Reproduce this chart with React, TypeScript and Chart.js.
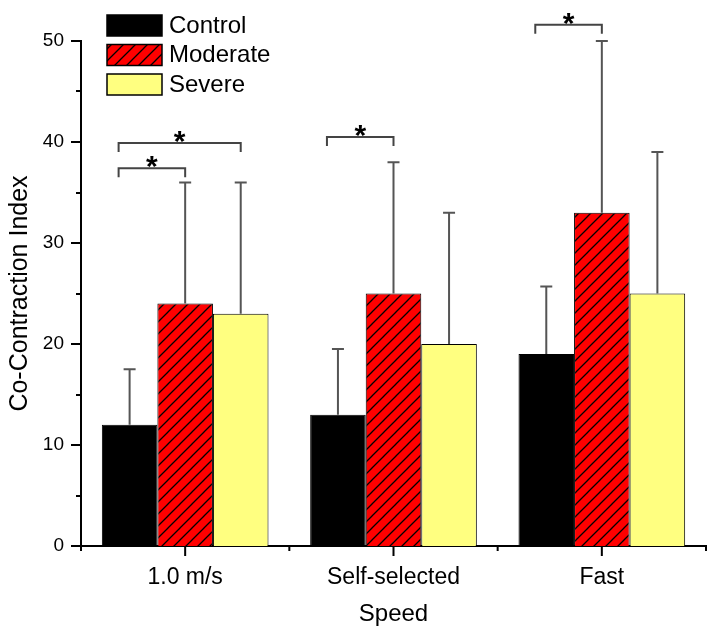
import React, { useEffect, useRef } from "react";
import { Chart, registerables } from "chart.js";
Chart.register(...registerables);

const speeds = ["1.0 m/s", "Self-selected", "Fast"];
const groupNames = ["Control", "Moderate", "Severe"];
const controlMean = [12, 13, 19];
const moderateMean = [24, 25, 33];
const severeMean = [23, 20, 25];
const controlSD = [5.5, 6.5, 6.7];
const moderateSD = [12, 13, 17];
const severeSD = [13, 13, 14];
const yMin = 0;
const yMax = 50;
const yStep = 10;
// significance brackets
const sigSpeed = [0, 0, 1, 2];
const sigFrom = [0, 0, 0, 0];
const sigTo = [1, 2, 1, 1];
const sigLevel = [37.4, 39.9, 40.5, 51.6];

const FONT = "'Liberation Sans', Arial, Helvetica, sans-serif";

function makeHatch(): CanvasPattern | string {
  const c = document.createElement("canvas");
  c.width = 12;
  c.height = 12;
  const g = c.getContext("2d");
  if (!g) return "#ff0000";
  g.fillStyle = "#ff0000";
  g.fillRect(0, 0, 12, 12);
  g.strokeStyle = "#000";
  g.lineWidth = 1.3;
  g.beginPath();
  g.moveTo(-1, 13);
  g.lineTo(13, -1);
  g.moveTo(-1, 1);
  g.lineTo(1, -1);
  g.moveTo(11, 13);
  g.lineTo(13, 11);
  g.stroke();
  const p = g.createPattern(c, "repeat");
  return p || "#ff0000";
}

const extras = {
  id: "extras",
  afterDatasetsDraw(chart: any) {
    const ctx: CanvasRenderingContext2D = chart.ctx;
    const y = chart.scales.y;
    const x = chart.scales.x;
    const sds = [controlSD, moderateSD, severeSD];
    ctx.save();
    // error bars
    ctx.strokeStyle = "#555";
    ctx.lineWidth = 2;
    chart.data.datasets.forEach((ds: any, di: number) => {
      const meta = chart.getDatasetMeta(di);
      meta.data.forEach((bar: any, i: number) => {
        const v = ds.data[i];
        const top = y.getPixelForValue(v + sds[di][i]);
        ctx.beginPath();
        ctx.moveTo(bar.x, bar.y);
        ctx.lineTo(bar.x, top);
        ctx.moveTo(bar.x - 6, top);
        ctx.lineTo(bar.x + 6, top);
        ctx.stroke();
      });
    });
    // significance brackets
    ctx.strokeStyle = "#444";
    ctx.lineWidth = 2;
    ctx.fillStyle = "#000";
    ctx.font = "bold 30px " + FONT;
    ctx.textAlign = "center";
    ctx.textBaseline = "alphabetic";
    for (let k = 0; k < sigSpeed.length; k++) {
      const a = chart.getDatasetMeta(sigFrom[k]).data[sigSpeed[k]];
      const b = chart.getDatasetMeta(sigTo[k]).data[sigSpeed[k]];
      const x1 = a.x - 11;
      const x2 = b.x;
      const yy = y.getPixelForValue(sigLevel[k]);
      ctx.beginPath();
      ctx.moveTo(x1, yy + 9);
      ctx.lineTo(x1, yy);
      ctx.lineTo(x2, yy);
      ctx.lineTo(x2, yy + 9);
      ctx.stroke();
      ctx.fillText("*", (x1 + x2) / 2, yy + 8);
    }
    // tick marks
    ctx.strokeStyle = "#000";
    ctx.lineWidth = 2;
    ctx.beginPath();
    for (let v = yMin; v <= yMax; v += yStep / 2) {
      const py = Math.round(y.getPixelForValue(v));
      const len = v % yStep === 0 ? 10 : 5;
      ctx.moveTo(chart.chartArea.left, py);
      ctx.lineTo(chart.chartArea.left - len, py);
    }
    const n = speeds.length;
    for (let i = 0; i < n; i++) {
      const px = x.getPixelForValue(i);
      ctx.moveTo(px, chart.chartArea.bottom);
      ctx.lineTo(px, chart.chartArea.bottom + 10);
    }
    for (let i = 0; i <= n; i++) {
      const px = x.getPixelForValue(i - 0.5);
      ctx.moveTo(px, chart.chartArea.bottom);
      ctx.lineTo(px, chart.chartArea.bottom + 5);
    }
    ctx.stroke();
    // legend
    ctx.font = "24px " + FONT;
    ctx.textAlign = "left";
    ctx.textBaseline = "middle";
    chart.data.datasets.forEach((ds: any, di: number) => {
      const bx = 107;
      const by = 15 + di * 29.5;
      ctx.fillStyle = ds.backgroundColor;
      ctx.fillRect(bx, by, 55, 21);
      ctx.strokeStyle = "#000";
      ctx.lineWidth = 1.5;
      ctx.strokeRect(bx, by, 55, 21);
      ctx.fillStyle = "#000";
      ctx.fillText(ds.label, 169, by + 11);
    });
    ctx.restore();
  },
};

export default function App() {
  const ref = useRef<HTMLCanvasElement>(null);
  useEffect(() => {
    if (!ref.current) return;
    const hatch = makeHatch();
    const chart = new Chart(ref.current, {
      type: "bar",
      data: {
        labels: speeds,
        datasets: [
          { label: groupNames[0], data: controlMean, backgroundColor: "#000000", borderColor: "#000", borderWidth: 1 },
          { label: groupNames[1], data: moderateMean, backgroundColor: hatch as any, borderColor: "#000", borderWidth: 1 },
          { label: groupNames[2], data: severeMean, backgroundColor: "#ffff80", borderColor: "#000", borderWidth: 1 },
        ],
      },
      options: {
        responsive: false,
        animation: false,
        events: [],
        layout: { padding: { top: 41, right: 8, left: 0, bottom: 0 } },
        plugins: { legend: { display: false }, tooltip: { enabled: false } },
        datasets: { bar: { categoryPercentage: 0.8, barPercentage: 1.0 } },
        scales: {
          x: {
            type: "category",
            offset: true,
            grid: { display: false, drawTicks: false },
            border: { display: true, color: "#000", width: 2 },
            ticks: { color: "#000", font: { family: FONT, size: 23 }, padding: 18, maxRotation: 0 },
            title: { display: true, text: "Speed", color: "#000", font: { family: FONT, size: 24 }, padding: { top: 0, bottom: 4 } },
            afterFit: (s: any) => { s.height = 87; },
          },
          y: {
            min: yMin,
            max: yMax,
            grid: { display: false, drawTicks: false },
            border: { display: true, color: "#000", width: 2 },
            ticks: { stepSize: yStep, color: "#000", font: { family: FONT, size: 19 }, padding: 17 },
            title: { display: true, text: "Co-Contraction Index", color: "#000", font: { family: FONT, size: 25 }, padding: { top: 5, bottom: 0 } },
            afterFit: (s: any) => { s.width = 81; },
          },
        },
      },
      plugins: [extras],
    });
    return () => chart.destroy();
  }, []);
  return (
    <canvas
      ref={ref}
      width={714}
      height={633}
      style={{ position: "absolute", left: 0, top: 0, display: "block" }}
    />
  );
}
